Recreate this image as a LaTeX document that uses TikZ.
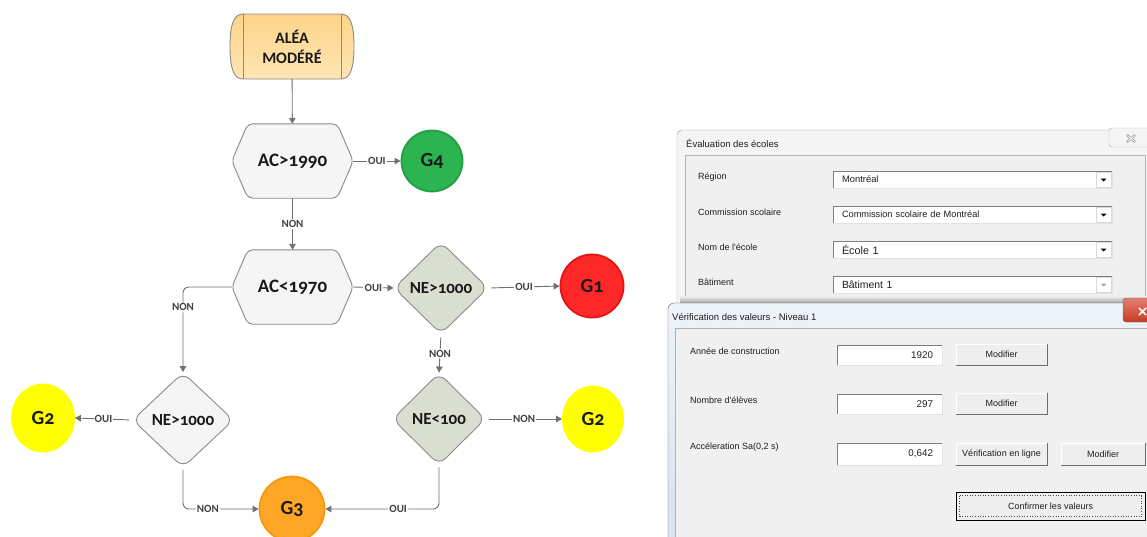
\documentclass[tikz,border=0pt]{standalone}
\usepackage{fontspec}
\setmainfont{Carlito}[Numbers=OldStyle]
\newfontfamily\uifont{Liberation Sans}
\usetikzlibrary{arrows.meta,shapes.geometric,backgrounds}
\definecolor{lineGray}{HTML}{707070}
\definecolor{labelGray}{HTML}{404040}
\definecolor{shapeBorder}{HTML}{8A8A8A}
\definecolor{hexFill}{HTML}{F5F5F5}
\definecolor{diaFill}{HTML}{D9DED0}
\definecolor{textDark}{HTML}{1A1A1A}
\definecolor{greenF}{HTML}{2CB450}
\definecolor{greenB}{HTML}{22A044}
\definecolor{redF}{HTML}{FF2828}
\definecolor{redB}{HTML}{E41414}
\definecolor{yelF}{HTML}{FFFF00}
\definecolor{oraF}{HTML}{FFA626}
\definecolor{oraB}{HTML}{F7980F}
\definecolor{aleaT}{HTML}{FCD488}
\definecolor{aleaB}{HTML}{FFE6B4}
\definecolor{winBg}{HTML}{F0F0F0}
\definecolor{frameOne}{HTML}{F4F4F4}
\definecolor{frameEdge}{HTML}{9C9C9C}
\definecolor{aeroT}{HTML}{EEF3F9}
\definecolor{aeroB}{HTML}{D6E2EE}
\definecolor{sunkDark}{HTML}{7E7E7E}
\definecolor{sunkLight}{HTML}{E2E2E2}
\definecolor{btnDark}{HTML}{6C6C6C}
\definecolor{btnFill}{HTML}{EEEEEE}
\definecolor{uiText}{HTML}{1E1E1E}
\definecolor{closeRedT}{HTML}{E38070}
\definecolor{closeRedB}{HTML}{C43C22}
\begin{document}
\begin{tikzpicture}[x=1pt,y=-1pt,
  conn/.style={draw=lineGray, line width=0.9pt, -{Triangle[width=6.5pt,length=6pt]}},
  lbl/.style={fill=white, inner sep=1.2pt, text=labelGray, font=\fontsize{11}{12}\selectfont\bfseries},
  hexbox/.style={rectangle, minimum width=121pt, minimum height=74pt, inner sep=0pt, text=textDark, font=\fontsize{19}{20}\selectfont\bfseries},
  hexline/.style={draw=shapeBorder, fill=hexFill, line width=0.9pt, rounded corners=5pt},
  decision/.style={diamond, draw=shapeBorder, line width=0.9pt, rounded corners=9pt, inner sep=0pt, text=textDark, font=\fontsize{17}{18}\selectfont\bfseries},
  grade/.style={circle, inner sep=0pt, line width=1.8pt, text=textDark, font=\fontsize{20}{20}\selectfont\bfseries},
  uilabel/.style={anchor=west, inner sep=0pt, text=uiText, font=\uifont\fontsize{9}{10}\selectfont},
  combo/.style={rectangle, fill=white, minimum height=16pt, inner ysep=0pt, inner xsep=9pt, text width=261pt, align=left, text=uiText},
  field/.style={rectangle, fill=white, minimum height=20pt, inner ysep=0pt, inner xsep=9pt, text width=87pt, align=right, text=uiText, font=\uifont\fontsize{9.8}{10}\selectfont},
  button/.style={rectangle, fill=btnFill, draw=sunkLight, inner sep=0pt, minimum height=21pt, text=uiText, font=\uifont\fontsize{9}{10}\selectfont}
]
\useasboundingbox (0,0) rectangle (1147,536);
\clip (0,0) rectangle (1147,536);

% ---------------- flowchart ----------------
\node[rectangle, minimum width=124pt, minimum height=65pt, inner sep=0pt, align=center, text=textDark,
      font=\fontsize{16}{20}\selectfont\bfseries] (alea) at (292,46.5) {ALÉA\\MODÉRÉ};
\node[hexbox] (h1) at (292.5,161) {AC>1990};
\node[hexbox] (h2) at (292.5,287) {AC<1970};
\node[decision, fill=diaFill, minimum width=94pt, minimum height=92pt] (d1) at (441,288) {NE>1000};
\node[decision, fill=diaFill, minimum width=93pt, minimum height=92pt] (d2) at (439,419) {NE<100};
\node[decision, fill=hexFill, minimum width=101pt, minimum height=95pt] (dL) at (183,420) {NE>1000};
\node[grade, fill=greenF, draw=greenB, minimum size=61pt] (g4) at (432,161) {G4};
\node[grade, fill=redF, draw=redB, minimum size=63pt] (g1) at (592,286) {G1};
\node[grade, ellipse, fill=yelF, draw=yelF, minimum width=60pt, minimum height=65pt] (g2r) at (593,419) {G2};
\node[grade, ellipse, fill=yelF, draw=yelF, minimum width=62pt, minimum height=67pt] (g2l) at (43,418) {G2};
\node[grade, fill=oraF, draw=oraB, minimum size=65pt] (g3) at (292,509) {G3};

\begin{scope}[on background layer]
  \fill[white] (0,0) rectangle (1147,536);
  \draw[draw=shapeBorder, line width=0.9pt, top color=aleaT, bottom color=aleaB]
    (243,14) -- (341,14) .. controls (350,14) and (354,24) .. (354,46.5)
    .. controls (354,69) and (350,79) .. (341,79) -- (243,79)
    .. controls (234,79) and (230,69) .. (230,46.5)
    .. controls (230,24) and (234,14) .. (243,14) -- cycle;
  \draw[draw=shapeBorder, line width=0.9pt] (243,14) -- (243,79) (341,14) -- (341,79);
  \foreach \h in {h1,h2}{
    \draw[hexline] (\h.west) -- ([xshift=16pt]\h.north west) -- ([xshift=-16pt]\h.north east)
      -- (\h.east) -- ([xshift=-16pt]\h.south east) -- ([xshift=16pt]\h.south west) -- cycle;
  }
\end{scope}

\draw[conn] (alea) -- (h1);
\draw[conn] (h1.east) -- node[lbl]{OUI} (g4.west);
\draw[conn] (h1.south) -- node[lbl]{NON} (h2.north);
\draw[conn] (h2.east) -- node[lbl]{OUI} (d1.west);
\draw[conn, rounded corners=6pt] (h2.west) -| node[lbl, pos=0.62]{NON} (dL.north);
\draw[conn, shorten <=3pt] (d1.east) -- node[lbl]{OUI} (g1.west);
\draw[conn, shorten <=3pt] (d1.south) -- node[lbl]{NON} (d2.north);
\draw[conn, shorten <=3pt] (d2.east) -- node[lbl]{NON} (g2r.west);
\draw[conn, shorten <=3pt] (dL.west) -- node[lbl]{OUI} (g2l.east);
\draw[conn, rounded corners=6pt, shorten <=2pt] (dL.south) |- node[lbl, pos=0.665]{NON} (g3.west);
\draw[conn, rounded corners=6pt, shorten <=2pt] (d2.south) |- node[lbl, pos=0.68]{OUI} (g3.east);

% ---------------- dialog 1 ----------------
\draw[fill=frameOne, draw=frameEdge, rounded corners=5pt] (677,130) rectangle (1175,320);
\node[uilabel, font=\uifont\fontsize{9.5}{10}\selectfont] (t1) at (686,143) {Évaluation des écoles};
\draw[fill=white!96!black, draw=frameEdge!80, rounded corners=3pt] (1109,128) rectangle (1160,147);
\draw[line width=2.2pt, draw=black!45] (1127,135) -- (1135,142) (1127,142) -- (1135,135);
\draw[line width=0.9pt, draw=white] (1127.5,135.5) -- (1134.5,141.5) (1127.5,141.5) -- (1134.5,135.5);
\draw[fill=winBg, draw=black!30] (685,155) rectangle (1145,310);

\node[uilabel] (l1) at (698,177) {Région};
\node[uilabel] (l2) at (698,212) {Commission scolaire};
\node[uilabel] (l3) at (698,247) {Nom de l'école};
\node[uilabel] (l4) at (698,282) {Bâtiment};
\node[combo, font=\uifont\fontsize{9.4}{10}\selectfont] (c1) at (972.5,179.5) {Montréal};
\node[combo, font=\uifont\fontsize{9.2}{10}\selectfont] (c2) at (972.5,214.5) {Commission scolaire de Montréal};
\node[combo, font=\uifont\fontsize{10.8}{11}\selectfont] (c3) at (972.5,249.5) {École 1};
\node[combo, font=\uifont\fontsize{10.4}{11}\selectfont] (c4) at (972.5,284.5) {Bâtiment 1};
\foreach \c/\tri in {c1/black,c2/black,c3/black,c4/black!35}{
  \draw[sunkDark] (\c.south west) -- (\c.north west) -- (\c.north east);
  \draw[sunkLight] (\c.north east) -- (\c.south east) -- (\c.south west);
  \draw[draw=black!15, fill=white] ([xshift=-16pt,yshift=-1pt]\c.north east) rectangle ([xshift=-1pt,yshift=1pt]\c.south east);
  \fill[\tri] ([xshift=-11.5pt,yshift=1pt]\c.east) -- ([xshift=-5.5pt,yshift=1pt]\c.east) -- ([xshift=-8.5pt,yshift=-2pt]\c.east) -- cycle;
}

% shadow of dialog 2
\shade[top color=winBg, bottom color=black!40] (680,296) rectangle (1147,304);

% ---------------- dialog 2 ----------------
\draw[top color=aeroT, bottom color=aeroB, draw=black!65, rounded corners=6pt] (668,303) rectangle (1180,560);
\node[uilabel, font=\uifont\fontsize{9.5}{10}\selectfont] (t2) at (672,317) {Vérification des valeurs - Niveau 1};
\draw[top color=closeRedT, bottom color=closeRedB, draw=black!60, rounded corners=3pt] (1123,298) rectangle (1175,322);
\draw[line width=1.6pt, draw=white] (1139,308) -- (1146,315) (1139,315) -- (1146,308);
\draw[fill=winBg, draw=black!30] (675,328) rectangle (1160,550);

\node[uilabel] (r1) at (690,351) {Année de construction};
\node[uilabel] (r2) at (690,400) {Nombre d'élèves};
\node[uilabel] (r3) at (690,447) {Accéleration Sa(0,2 s)};
\node[field] (f1) at (889.5,355) {1920};
\node[field] (f2) at (889.5,404) {297};
\node[field, minimum height=22pt] (f3) at (889.5,454) {0,642};
\foreach \f in {f1,f2,f3}{
  \draw[sunkDark] (\f.south west) -- (\f.north west) -- (\f.north east);
  \draw[sunkLight] (\f.north east) -- (\f.south east) -- (\f.south west);
}
\node[button, minimum width=91pt] (b1) at (1001.5,354.5) {Modifier};
\node[button, minimum width=91pt] (b2) at (1001.5,403.5) {Modifier};
\node[button, minimum width=91pt, minimum height=22pt] (b3) at (1001.5,454) {Vérification en ligne};
\node[button, minimum width=84pt, minimum height=22pt] (b4) at (1103,454) {Modifier};
\foreach \b in {b1,b2,b3,b4}{
  \draw[white, line width=1pt] ([xshift=1pt]\b.south west) -- ([xshift=1pt,yshift=-1pt]\b.north west) -- ([yshift=-1pt]\b.north east);
  \draw[btnDark] (\b.north east) -- (\b.south east) -- (\b.south west);
}
\node[button, minimum width=189pt, minimum height=28pt, draw=black, line width=1pt] (b5) at (1050.5,506) {Confirmer les valeurs};
\draw[black!70, dotted, line width=0.6pt] ([xshift=4pt,yshift=-4pt]b5.north west) rectangle ([xshift=-4pt,yshift=4pt]b5.south east);
\end{tikzpicture}
\end{document}
